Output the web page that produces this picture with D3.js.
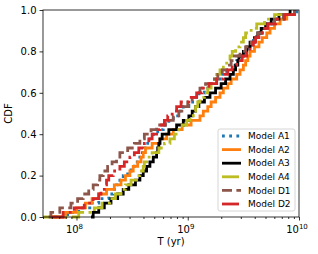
<!DOCTYPE html>
<html>
<head>
<meta charset="utf-8">
<script src="https://cdn.jsdelivr.net/npm/d3@7"></script>
<style>
  body { margin: 0; background: #fff; }
  text { font-family: "DejaVu Sans", sans-serif; fill: #000; }
</style>
</head>
<body>
<svg id="vis" width="318" height="254"></svg>
<script>
// sorted log10(T / yr) samples, one array per model
var modelA1 = [7.80, 7.92, 8.02, 8.12, 8.20, 8.29, 8.33, 8.36, 8.39, 8.42, 8.46, 8.49, 8.52, 8.55, 8.58, 8.61,
  8.64, 8.66, 8.69, 8.73, 8.78, 8.83, 8.87, 8.91, 8.96, 9.01, 9.06, 9.10, 9.15, 9.20, 9.26, 9.31,
  9.35, 9.40, 9.44, 9.48, 9.51, 9.54, 9.57, 9.59, 9.62, 9.65, 9.70, 9.77, 9.86, 9.98];
var modelA2 = [7.78, 7.90, 8.00, 8.08, 8.14, 8.20, 8.27, 8.34, 8.40, 8.44, 8.48, 8.51, 8.55, 8.58, 8.60, 8.62,
  8.68, 8.75, 8.81, 8.87, 8.95, 9.03, 9.11, 9.14, 9.18, 9.21, 9.25, 9.29, 9.32, 9.36, 9.39, 9.44,
  9.47, 9.50, 9.52, 9.54, 9.56, 9.60, 9.64, 9.67, 9.71, 9.74, 9.78, 9.83, 9.89, 9.96];
var modelA3 = [8.13, 8.15, 8.20, 8.25, 8.31, 8.37, 8.42, 8.47, 8.53, 8.57, 8.60, 8.63, 8.66, 8.69, 8.72, 8.73,
  8.74, 8.75, 8.77, 8.83, 8.90, 8.96, 9.01, 9.04, 9.07, 9.10, 9.15, 9.20, 9.25, 9.30, 9.34, 9.38,
  9.41, 9.43, 9.45, 9.46, 9.50, 9.53, 9.56, 9.60, 9.63, 9.66, 9.70, 9.75, 9.82, 9.92];
var modelA4 = [7.70, 8.02, 8.16, 8.23, 8.30, 8.35, 8.40, 8.44, 8.49, 8.54, 8.57, 8.60, 8.61, 8.63, 8.68, 8.74,
  8.79, 8.84, 8.88, 8.92, 8.95, 8.99, 9.02, 9.05, 9.07, 9.09, 9.11, 9.15, 9.18, 9.21, 9.24, 9.26,
  9.29, 9.32, 9.35, 9.38, 9.40, 9.43, 9.47, 9.50, 9.52, 9.57, 9.62, 9.69, 9.78, 9.95];
var modelD1 = [7.75, 7.77, 7.85, 7.95, 8.01, 8.06, 8.11, 8.15, 8.19, 8.21, 8.24, 8.28, 8.32, 8.36, 8.39, 8.46,
  8.52, 8.57, 8.61, 8.67, 8.72, 8.80, 8.87, 8.92, 8.96, 9.00, 9.04, 9.08, 9.11, 9.16, 9.22, 9.27,
  9.31, 9.35, 9.39, 9.42, 9.47, 9.52, 9.57, 9.60, 9.63, 9.67, 9.72, 9.78, 9.86, 9.96];
var modelD2 = [7.78, 7.88, 7.98, 8.07, 8.15, 8.20, 8.22, 8.25, 8.27, 8.29, 8.33, 8.39, 8.43, 8.48, 8.52, 8.56,
  8.61, 8.65, 8.68, 8.72, 8.75, 8.79, 8.82, 8.86, 8.90, 8.94, 9.01, 9.08, 9.13, 9.19, 9.26, 9.32,
  9.36, 9.40, 9.44, 9.49, 9.53, 9.56, 9.59, 9.61, 9.64, 9.67, 9.72, 9.79, 9.87, 9.97];

var labels = ["Model A1", "Model A2", "Model A3", "Model A4", "Model D1", "Model D2"];
var colors = ["#1f77b4", "#ff7f0e", "#000000", "#bcbd22", "#8c564b", "#d62728"];
var dashes = ["2.8,4.4", null, null, "17,4.4,2.8,4.4", "10,4.4", "17,4.4,2.8,4.4"];
var yTicks = [0, 0.2, 0.4, 0.6, 0.8, 1.0];
var xTickExps = [8, 9, 10];

var series = [modelA1, modelA2, modelA3, modelA4, modelD1, modelD2];

var vis = d3.select("#vis");
var mLeft = 43, mRight = 299, mTop = 10, mBottom = 217;

var x = d3.scaleLog().domain([5e7, 1e10]).range([mLeft, mRight]);
var y = d3.scaleLinear().domain([0, 1]).range([mBottom, mTop]);

// clip so lines stay inside the axes
vis.append("defs").append("clipPath").attr("id", "clip")
  .append("rect").attr("x", mLeft).attr("y", mTop - 2)
  .attr("width", mRight - mLeft).attr("height", mBottom - mTop + 4);

var plot = vis.append("g");

var line = d3.line()
  .x(function(d) { return x(Math.pow(10, d[0])); })
  .y(function(d) { return y(d[1]); })
  .curve(d3.curveStepAfter);

var curves = plot.append("g").attr("clip-path", "url(#clip)");
series.forEach(function(s, k) {
  var n = s.length;
  var pts = s.map(function(v, i) { return [v, i / (n - 1)]; });
  curves.append("path")
    .datum(pts)
    .attr("d", line)
    .attr("fill", "none")
    .attr("stroke", colors[k])
    .attr("stroke-width", 2.8)
    .attr("stroke-dasharray", dashes[k]);
});

// axes
var xAxis = d3.axisBottom(x)
  .tickValues(xTickExps.map(function(e) { return Math.pow(10, e); }))
  .tickSize(3.5).tickFormat("");
var xMinor = [];
[7, 8, 9].forEach(function(e) {
  for (var m = 2; m <= 9; m++) {
    var v = m * Math.pow(10, e);
    if (v >= 5e7 && v <= 1e10) xMinor.push(v);
  }
});
var xAxisMinor = d3.axisBottom(x).tickValues(xMinor).tickSize(2).tickFormat("");

var gx = plot.append("g").attr("transform", "translate(0," + mBottom + ")").call(xAxis);
var gxm = plot.append("g").attr("transform", "translate(0," + mBottom + ")").call(xAxisMinor);
[gx, gxm].forEach(function(g) {
  g.select(".domain").remove();
  g.selectAll("line").attr("stroke", "#000").attr("stroke-width", 0.8);
});

xTickExps.forEach(function(e) {
  var t = plot.append("text")
    .attr("x", x(Math.pow(10, e)) - 2)
    .attr("y", mBottom + 16)
    .attr("text-anchor", "middle")
    .attr("font-size", 10);
  t.append("tspan").text("10");
  t.append("tspan").attr("dy", -4.5).attr("font-size", 7).text(e);
});

var yAxis = d3.axisLeft(y).tickValues(yTicks).tickSize(3.5).tickPadding(3)
  .tickFormat(d3.format(".1f"));
var gy = plot.append("g").attr("transform", "translate(" + mLeft + ",0)").call(yAxis);
gy.select(".domain").remove();
gy.selectAll("line").attr("stroke", "#000").attr("stroke-width", 0.8);
gy.selectAll("text").attr("font-size", 10).attr("font-family", "DejaVu Sans, sans-serif");

// frame
plot.append("rect")
  .attr("x", mLeft).attr("y", mTop)
  .attr("width", mRight - mLeft).attr("height", mBottom - mTop)
  .attr("fill", "none").attr("stroke", "#000").attr("stroke-width", 0.8);

// axis labels
vis.append("text")
  .attr("x", (mLeft + mRight) / 2).attr("y", 245)
  .attr("text-anchor", "middle").attr("font-size", 10)
  .text("T (yr)");
vis.append("text")
  .attr("transform", "translate(12," + ((mTop + mBottom) / 2) + ") rotate(-90)")
  .attr("text-anchor", "middle").attr("font-size", 10)
  .text("CDF");

// legend
var lg = vis.append("g").attr("transform", "translate(218,129)");
lg.append("rect")
  .attr("width", 77).attr("height", 82).attr("rx", 2)
  .attr("fill", "#fff").attr("fill-opacity", 0.8)
  .attr("stroke", "#ccc").attr("stroke-width", 0.8);
labels.forEach(function(lab, k) {
  var yy = 7 + k * 13.6;
  lg.append("line")
    .attr("x1", 4).attr("x2", 23).attr("y1", yy).attr("y2", yy)
    .attr("stroke", colors[k]).attr("stroke-width", 2.8)
    .attr("stroke-dasharray", dashes[k]);
  lg.append("text")
    .attr("x", 30).attr("y", yy + 3.2)
    .attr("font-size", 9)
    .text(lab);
});
</script>
</body>
</html>
